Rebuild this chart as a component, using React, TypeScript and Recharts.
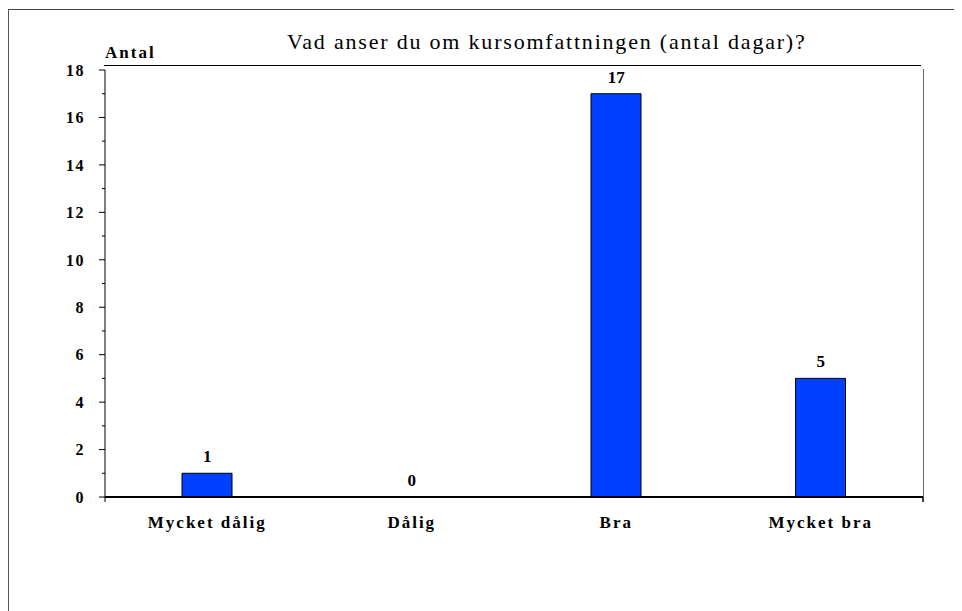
import React from "react";
import { ComposedChart, Bar, Line, XAxis, YAxis, LabelList } from "recharts";

const categories = ["Mycket dålig", "Dålig", "Bra", "Mycket bra"];
const counts = [1, 0, 17, 5];
const yTicks = [0, 1, 2, 3, 4, 5, 6, 7, 8, 9, 10, 11, 12, 13, 14, 15, 16, 17, 18];
const title = "Vad anser du om kursomfattningen (antal dagar)?";
const yTitle = "Antal";

const data = categories.map((c, i) => ({ name: c, value: counts[i] }));

const FONT = "Liberation Serif";
const W = 954;
const H = 603;
const TICK_MARGIN = 16;
const TICK_SIZE = 5;
const X_TICK_SIZE = 6;
const X_TICK_MARGIN = 10;
const BAND = (915 - 97) / categories.length;

const YTick = (props: any) => {
  const { x, y, payload } = props;
  const v = payload.value as number;
  const axisX = x + TICK_MARGIN + TICK_SIZE;
  const major = v % 2 === 0;
  return (
    <g>
      <line
        x1={major ? axisX - 6 : axisX - 3}
        x2={axisX}
        y1={y}
        y2={y}
        stroke="#000"
        strokeWidth={1}
      />
      {v === 0 && <line x1={axisX} x2={axisX} y1={y} y2={y + 5} stroke="#000" strokeWidth={1} />}
      {major && (
        <text
          x={x + 1}
          y={y}
          dy="0.36em"
          textAnchor="end"
          fontFamily={FONT}
          style={{ fontFamily: FONT }}
          fontWeight="bold"
          fontSize={16}
          letterSpacing={1.5}
          fill="#000"
        >
          {v}
        </text>
      )}
    </g>
  );
};

const XTick = (props: any) => {
  const { x, y, payload, index } = props;
  const last = index === categories.length - 1;
  const axisY = y - X_TICK_SIZE - X_TICK_MARGIN;
  return (
    <g>
      {last && (
        <line x1={x + BAND / 2} x2={x + BAND / 2} y1={axisY} y2={axisY + 5} stroke="#000" strokeWidth={1.5} />
      )}
      <text
        x={x}
        y={axisY + 31}
        textAnchor="middle"
        fontFamily={FONT}
        style={{ fontFamily: FONT }}
        fontWeight="bold"
        fontSize={17}
        letterSpacing={2}
        fill="#000"
      >
        {payload.value}
      </text>
    </g>
  );
};

const ValueLabel = (props: any) => {
  const { x, y, value } = props;
  return (
    <text
      x={x}
      y={y - 11}
      textAnchor="middle"
      fontFamily={FONT}
      style={{ fontFamily: FONT }}
      fontWeight="bold"
      fontSize={17}
      fill="#000"
    >
      {value}
    </text>
  );
};

export default function App() {
  return (
    <div
      style={{
        position: "relative",
        width: W,
        height: H,
        boxSizing: "border-box",
        borderTop: "1px solid #444",
        borderLeft: "1px solid #555",
        marginTop: 1,
        background: "#fff",
      }}
    >
      <div
        style={{
          position: "absolute",
          left: 278,
          top: 19,
          fontFamily: FONT,
          fontSize: 22,
          letterSpacing: 1.8,
          color: "#000",
          whiteSpace: "nowrap",
          lineHeight: "26px",
        }}
      >
        {title}
      </div>
      <div
        style={{
          position: "absolute",
          left: 96,
          top: 33,
          fontFamily: FONT,
          fontWeight: "bold",
          fontSize: 17,
          letterSpacing: 2,
          color: "#000",
          lineHeight: "20px",
        }}
      >
        {yTitle}
      </div>
      {/* plot frame: top and right */}
      <div style={{ position: "absolute", left: 95, top: 55, width: 817, height: 1, background: "#000" }} />
      <div style={{ position: "absolute", left: 914, top: 59, width: 1, height: 428, background: "#666" }} />
      <div style={{ position: "absolute", left: -1, top: -1 }}>
        <ComposedChart
          width={W}
          height={H}
          data={data}
          margin={{ top: 61, right: 39, left: 37, bottom: 85 }}
          barSize={50}
        >
          <XAxis
            dataKey="name"
            height={30}
            axisLine={{ stroke: "#000", strokeWidth: 2 }}
            tickLine={false}
            tickSize={X_TICK_SIZE}
            tickMargin={X_TICK_MARGIN}
            tick={<XTick />}
            interval={0}
          />
          <YAxis
            width={60}
            domain={[0, 18]}
            ticks={yTicks}
            interval={0}
            axisLine={{ stroke: "#000", strokeWidth: 1 }}
            tickLine={false}
            tickSize={TICK_SIZE}
            tickMargin={TICK_MARGIN}
            tick={<YTick />}
          />
          <Bar dataKey="value" fill="#0040FF" stroke="#000" strokeWidth={1} isAnimationActive={false} />
          <Line
            dataKey="value"
            stroke="none"
            dot={false}
            activeDot={false}
            legendType="none"
            isAnimationActive={false}
          >
            <LabelList dataKey="value" content={<ValueLabel />} />
          </Line>
        </ComposedChart>
      </div>
    </div>
  );
}
